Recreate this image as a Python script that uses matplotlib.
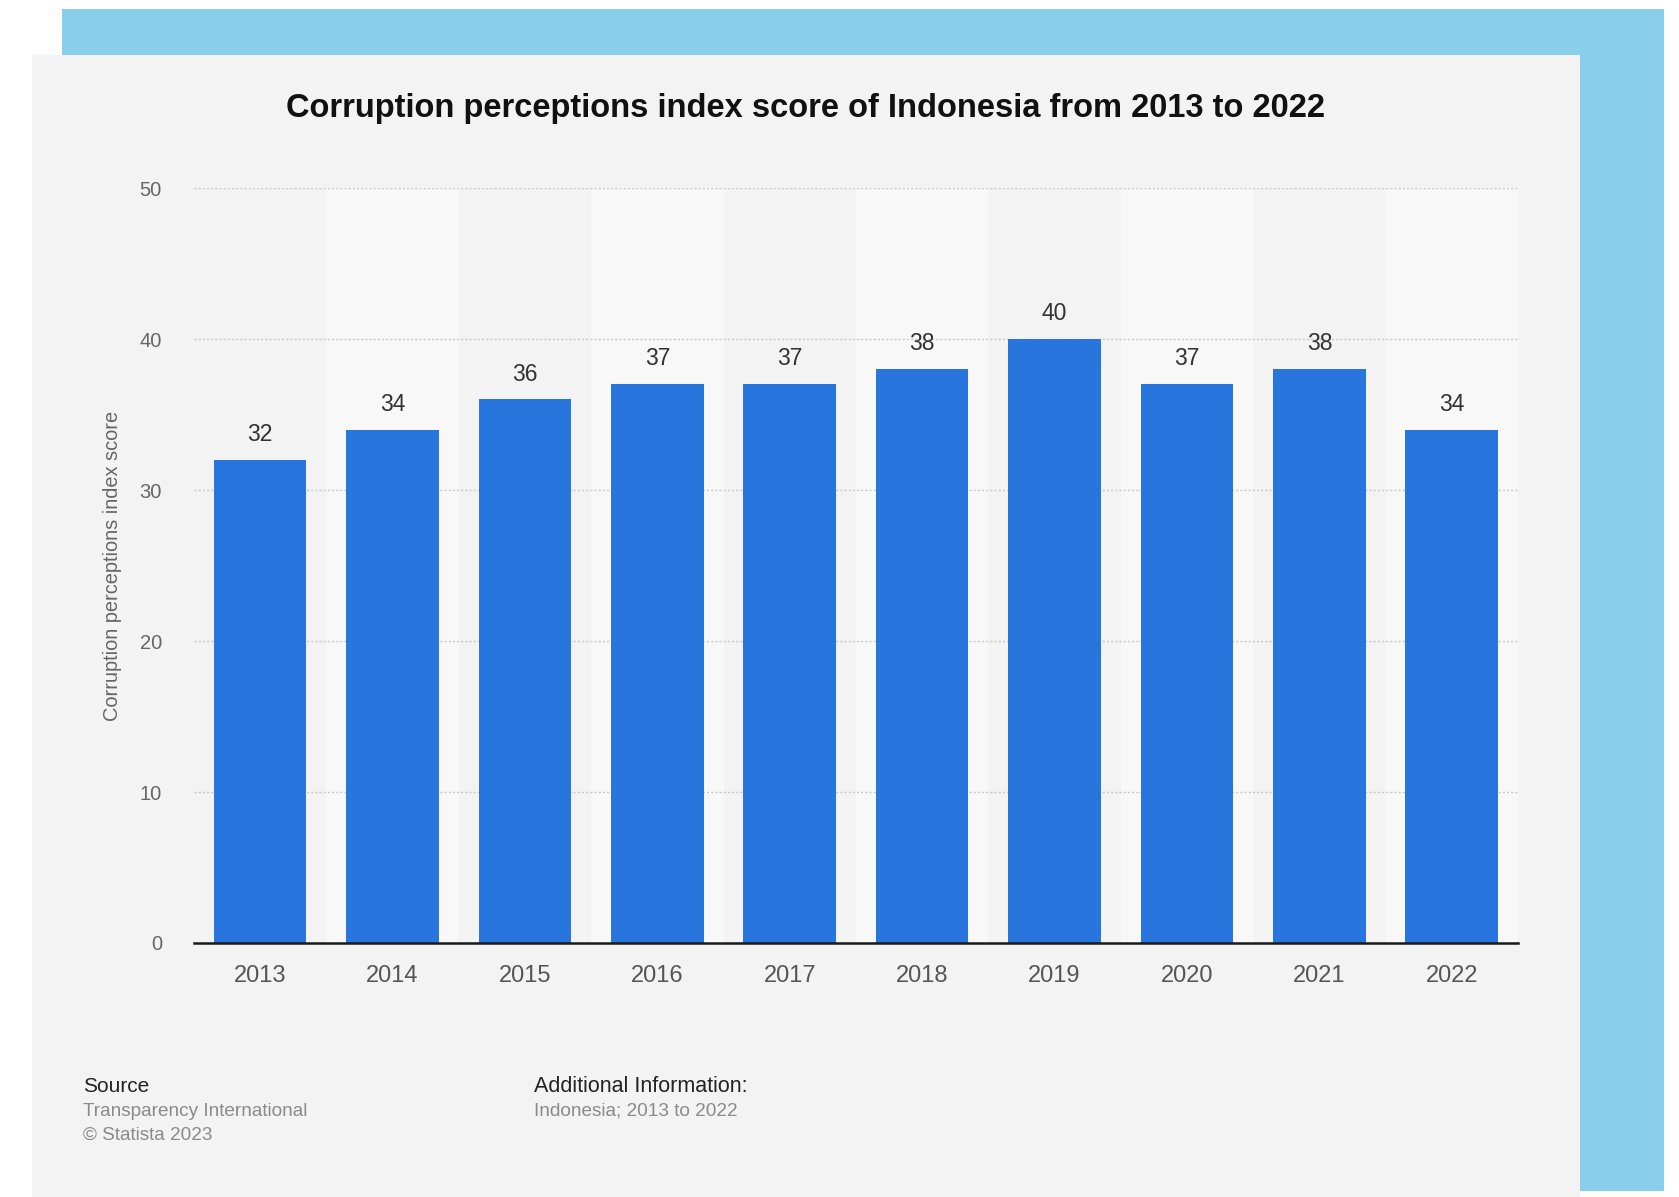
"""Corruption perceptions index score of Indonesia, Statista style bar chart"""

#%% packages
import matplotlib.pyplot as plt
from matplotlib.patches import Rectangle

plt.rcParams['font.family'] = ['Liberation Sans', 'DejaVu Sans']

#%% data
years = ['2013', '2014', '2015', '2016', '2017', '2018', '2019', '2020', '2021', '2022']
scores = [32, 34, 36, 37, 37, 38, 40, 37, 38, 34]
y_ticks = [0, 10, 20, 30, 40, 50]

#%% figure and background panels
fig = plt.figure(figsize=(16.79, 11.97), dpi=100)
fig.patch.set_facecolor('white')
fig.patches.append(Rectangle((0.0369, 0.005), 0.9541, 0.9875, transform=fig.transFigure,
                             facecolor='#89CFEC', edgecolor='none', zorder=-3))
fig.patches.append(Rectangle((0.0191, 0.0), 0.922, 0.954, transform=fig.transFigure,
                             facecolor='#F4F3F4', edgecolor='none', zorder=-2))

ax = fig.add_axes([0.1155, 0.2122, 0.7886, 0.6307])
ax.set_facecolor('none')

x_pos = list(range(len(years)))
for i in x_pos:
    if i % 2 == 1:
        ax.axvspan(i - 0.5, i + 0.5, color='#F9F8F9', zorder=0, lw=0)

ax.bar(x_pos, scores, width=0.7, color='#2875DD', zorder=3)
for i, s in enumerate(scores):
    ax.annotate(str(s), (i, s), xytext=(0, 10), textcoords='offset points',
                ha='center', va='bottom', fontsize=16.5, color='#333333')

ax.set_xlim(-0.5, len(years) - 0.5)
ax.set_ylim(0, 50)
ax.set_yticks(y_ticks)
ax.set_xticks(x_pos)
ax.set_xticklabels(years, fontsize=17, color='#555555')
ax.set_yticklabels([str(t) for t in y_ticks], fontsize=14.5, color='#666666')
ax.tick_params(length=0)
ax.tick_params(axis='x', pad=16)
ax.tick_params(axis='y', pad=23)
ax.grid(axis='y', linestyle=(0, (1.5, 1.5)), color='#C8C8C8', lw=1, zorder=1)
for sp in ['top', 'right', 'left']:
    ax.spines[sp].set_visible(False)
ax.spines['bottom'].set_color('#1a1a1a')
ax.spines['bottom'].set_linewidth(1.8)
ax.spines['bottom'].set_zorder(4)

ax.set_ylabel('Corruption perceptions index score', fontsize=14.4, color='#666666', labelpad=13)

#%% title and footer
fig.text(0.48, 0.909, 'Corruption perceptions index score of Indonesia from 2013 to 2022',
         ha='center', va='center', fontsize=23.5, fontweight='bold', color='#111111')
fig.text(0.0494, 1 - 1086 / 1197, 'Source', ha='left', va='center', fontsize=15, color='#222222')
fig.text(0.0494, 1 - 1111 / 1197, 'Transparency International', ha='left', va='center',
         fontsize=13.7, color='#8a8a8a')
fig.text(0.0494, 1 - 1135 / 1197, '\u00a9 Statista 2023', ha='left', va='center',
         fontsize=13.7, color='#8a8a8a')
fig.text(0.318, 1 - 1086 / 1197, 'Additional Information:', ha='left', va='center',
         fontsize=15.5, color='#222222')
fig.text(0.318, 1 - 1111 / 1197, 'Indonesia; 2013 to 2022', ha='left', va='center',
         fontsize=13.7, color='#8a8a8a')

plt.savefig('out.png', dpi=100, facecolor=fig.get_facecolor())
